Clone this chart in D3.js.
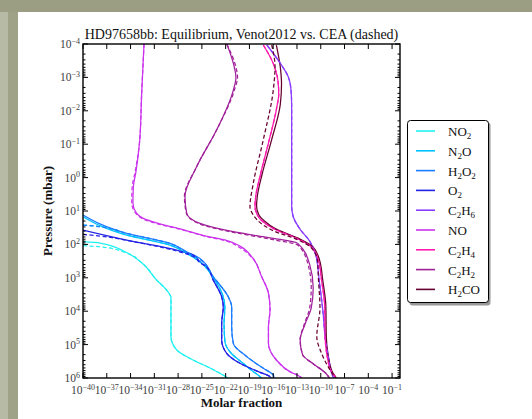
<!DOCTYPE html>
<html>
<head>
<meta charset="utf-8">
<script src="https://cdn.jsdelivr.net/npm/d3@7"></script>
<style>
  html, body { margin: 0; padding: 0; background: #fff; }
  svg { display: block; }
  text { font-family: "Liberation Serif", "DejaVu Serif", serif; }
</style>
</head>
<body>
<svg id="chart" width="532" height="419"></svg>
<script>
// Species in legend order, with their line colours
const species = ["NO2", "N2O", "H2O2", "O2", "C2H6", "NO", "C2H4", "C2H2", "H2CO"];
const colors  = ["#22f0f0", "#00c4ff", "#1a7cff", "#2222e6", "#8a3cff", "#cc33ee", "#ff1ab0", "#a0209a", "#66002e"];

// Profiles: [log10 molar fraction, log10 pressure (mbar)]
// Venot2012 (solid)
const NO2  = [[-40,1.92],[-37.85,1.96],[-34.7,2.22],[-32.6,2.55],[-30.7,3.07],[-29.44,3.37],[-28.9,3.6],[-28.9,4.26],[-28.9,4.76],[-28.18,5.16],[-26.12,5.46],[-23.97,5.7],[-21.7,6.0]];
const N2O  = [[-40,1.17],[-34.49,1.72],[-29.02,2.02],[-26.91,2.27],[-25.24,2.52],[-23.56,3.0],[-22.4,3.5],[-22.1,3.87],[-22.2,4.36],[-22.1,4.9],[-21.3,5.26],[-19.8,5.56],[-18.5,5.81],[-17.67,5.96],[-17.5,6.0]];
const H2O2 = [[-40,1.12],[-34.49,1.67],[-29.02,1.97],[-26.91,2.22],[-25.24,2.42],[-23.56,2.97],[-21.67,3.57],[-21.24,3.87],[-21.24,4.46],[-21.03,4.96],[-19.34,5.36],[-17.25,5.71],[-15.99,5.91],[-15.9,6.0]];
const O2   = [[-40,1.57],[-34.49,1.87],[-28.18,2.17],[-26.08,2.32],[-25.24,2.52],[-24.39,2.67],[-23.56,3.07],[-22.5,3.57],[-22.3,3.87],[-22.5,4.36],[-22.5,4.86],[-21.87,5.26],[-20.19,5.56],[-17.88,5.81],[-16.4,5.96],[-16.28,6.0]];
const C2H6 = [[-16.8,-3.97],[-15.1,-3.42],[-14.1,-3.02],[-13.75,-2.62],[-13.67,-2.12],[-13.67,-1.0],[-13.67,0.0],[-13.67,0.85],[-13.5,1.15],[-12.6,1.55],[-11.4,1.9],[-10.6,2.35],[-10.2,3.07],[-9.7,4.06],[-9.45,4.76],[-9.05,5.36],[-8.45,5.96],[-8.35,6.0]];
const NO   = [[-32.3,-4.0],[-32.6,-2.5],[-32.85,-1.1],[-33.3,-0.2],[-33.65,0.3],[-33.7,0.75],[-33.3,1.05],[-32.4,1.22],[-30.5,1.37],[-27.5,1.55],[-24.5,1.75],[-21.9,1.88],[-20.2,2.05],[-18.6,2.4],[-17.45,2.97],[-16.6,3.46],[-16.4,3.96],[-16.6,4.46],[-16.6,4.96],[-15.6,5.46],[-13.9,5.81],[-12.6,5.96],[-12.4,6.0]];
const C2H4 = [[-17.25,-3.97],[-16.0,-3.42],[-15.4,-2.9],[-15.3,-2.5],[-15.55,-2.1],[-16.5,-1.13],[-17.6,-0.1],[-18.2,0.55],[-18.3,0.85],[-18.0,1.12],[-17.4,1.3],[-16.0,1.52],[-13.0,1.82],[-11.2,2.07],[-10.3,2.47],[-9.9,3.07],[-9.5,3.87],[-9.45,4.76],[-9.25,5.26],[-8.65,5.81],[-8.2,5.96],[-8.1,6.0]];
const C2H2 = [[-21.85,-4.0],[-20.9,-3.3],[-20.7,-3.0],[-21.03,-2.62],[-23.13,-1.43],[-25.65,-0.33],[-27.13,0.57],[-26.91,1.07],[-25.24,1.37],[-21.03,1.62],[-17.29,1.77],[-15.99,1.82],[-12.9,1.97],[-11.4,2.6],[-10.95,3.3],[-11.2,3.9],[-12.0,4.4],[-12.6,4.86],[-12.3,5.3],[-10.8,5.6],[-9.4,5.85],[-8.9,6.0]];
const H2CO = [[-15.6,-3.97],[-15.1,-3.3],[-14.95,-2.8],[-15.1,-2.2],[-16.2,-1.13],[-17.4,-0.1],[-18.0,0.55],[-18.1,0.85],[-17.8,1.12],[-17.1,1.3],[-15.8,1.52],[-12.8,1.82],[-11.0,2.07],[-10.15,2.47],[-9.75,3.07],[-9.35,3.87],[-9.3,4.76],[-9.1,5.26],[-8.55,5.81],[-8.15,5.96],[-8.05,6.0]];

// CEA (dashed)
const NO2_cea  = [[-40,2.04],[-37.85,2.07],[-34.7,2.24],[-32.6,2.55],[-30.7,3.07],[-29.44,3.37],[-28.9,3.6],[-28.9,4.26],[-28.9,4.76],[-28.18,5.16],[-26.12,5.46],[-23.97,5.7],[-21.7,6.0]];
const N2O_cea  = [[-40,1.42],[-37.85,1.47],[-34.49,1.72],[-29.02,2.02],[-26.91,2.27],[-25.24,2.52],[-23.56,3.0],[-22.4,3.5],[-22.1,3.87],[-22.2,4.36],[-22.1,4.9],[-21.3,5.26],[-19.8,5.56],[-18.5,5.81],[-17.67,5.96],[-17.5,6.0]];
const H2O2_cea = [[-40,1.42],[-37.85,1.47],[-34.49,1.67],[-29.02,1.97],[-26.91,2.24],[-25.24,2.45],[-23.56,2.97],[-21.67,3.57],[-21.24,3.87],[-21.24,4.46],[-21.03,4.96],[-19.34,5.36],[-17.25,5.71],[-15.99,5.91],[-15.9,6.0]];
const O2_cea   = [[-40,1.7],[-37.85,1.75],[-34.49,1.88],[-28.18,2.2],[-26.08,2.36],[-25.24,2.55],[-24.39,2.68],[-23.56,3.07],[-22.5,3.57],[-22.3,3.87],[-22.5,4.36],[-22.5,4.86],[-21.87,5.26],[-20.19,5.56],[-17.88,5.81],[-16.4,5.96],[-16.28,6.0]];
const C2H6_cea = [[-16.8,-3.97],[-15.1,-3.42],[-14.1,-3.02],[-13.75,-2.62],[-13.67,-2.12],[-13.67,-1.0],[-13.67,0.0],[-13.67,0.85],[-13.5,1.15],[-12.6,1.55],[-11.4,1.9],[-10.6,2.35],[-10.2,3.07],[-9.7,4.06],[-9.45,4.76],[-9.05,5.36],[-8.45,5.96],[-8.35,6.0]];
const NO_cea   = [[-32.3,-4.0],[-32.6,-2.5],[-32.85,-1.1],[-33.4,-0.2],[-33.8,0.3],[-33.85,0.75],[-33.4,1.05],[-32.4,1.24],[-30.5,1.39],[-27.5,1.56],[-24.5,1.76],[-21.9,1.9],[-20.2,2.1],[-18.6,2.42],[-17.45,2.97],[-16.6,3.46],[-16.4,3.96],[-16.6,4.46],[-16.6,4.96],[-15.6,5.46],[-13.9,5.81],[-12.6,5.96],[-12.4,6.0]];
const C2H4_cea = [[-17.25,-3.97],[-16.0,-3.42],[-15.4,-2.9],[-15.3,-2.5],[-15.55,-2.1],[-16.5,-1.13],[-17.6,-0.1],[-18.2,0.55],[-18.3,0.85],[-18.0,1.12],[-17.4,1.3],[-16.0,1.52],[-13.0,1.82],[-11.2,2.07],[-10.3,2.47],[-9.9,3.07],[-9.5,3.87],[-9.45,4.76],[-9.25,5.26],[-8.65,5.81],[-8.2,5.96],[-8.1,6.0]];
const C2H2_cea = [[-21.85,-4.0],[-20.7,-3.3],[-20.5,-3.0],[-20.9,-2.62],[-23.13,-1.43],[-25.65,-0.33],[-27.2,0.57],[-26.95,1.07],[-25.24,1.39],[-21.03,1.64],[-17.29,1.8],[-15.99,1.86],[-12.9,2.02],[-11.6,2.6],[-11.2,3.3],[-11.4,3.9],[-12.1,4.4],[-12.6,4.86],[-12.3,5.3],[-10.8,5.6],[-9.4,5.85],[-8.9,6.0]];
const H2CO_cea = [[-16.19,-3.97],[-15.77,-3.32],[-15.99,-2.62],[-17.25,-1.13],[-18.51,0.17],[-18.93,0.87],[-18.51,1.12],[-17.25,1.42],[-15.9,1.6],[-13.0,1.85],[-11.2,2.1],[-10.4,2.5],[-10.3,3.0],[-10.1,3.9],[-10.5,4.76],[-9.9,5.26],[-8.6,5.85],[-8.2,6.0]];

const solidSets  = [NO2, N2O, H2O2, O2, C2H6, NO, C2H4, C2H2, H2CO];
const dashedSets = [NO2_cea, N2O_cea, H2O2_cea, O2_cea, C2H6_cea, NO_cea, C2H4_cea, C2H2_cea, H2CO_cea];

// Axis tick exponents
const xTickExps = [-40, -37, -34, -31, -28, -25, -22, -19, -16, -13, -10, -7, -4, -1];
const yTickExps = [-4, -3, -2, -1, 0, 1, 2, 3, 4, 5, 6];

const titleText = "HD97658bb: Equilibrium, Venot2012 vs. CEA (dashed)";
const xLabel = "Molar fraction";
const yLabel = "Pressure (mbar)";

const svg = d3.select("#chart");

// page backdrop: textured bands at the top and left
svg.append("rect").attr("x", 0).attr("y", 0).attr("width", 532).attr("height", 419).attr("fill", "#ffffff");
svg.append("rect").attr("x", 0).attr("y", 0).attr("width", 532).attr("height", 12).attr("fill", "#9c9e84");
svg.append("rect").attr("x", 0).attr("y", 12).attr("width", 8).attr("height", 407).attr("fill", "#b7baa4");
svg.append("rect").attr("x", 8).attr("y", 12).attr("width", 10).attr("height", 407).attr("fill", "#9fa287");

const L = 83, R = 400, T = 44, B = 378;
const x = d3.scaleLog().domain([1e-40, 1]).range([L, R]);
const y = d3.scaleLog().domain([1e-4, 1e6]).range([T, B]);

const clipId = "plotclip";
svg.append("clipPath").attr("id", clipId)
  .append("rect").attr("x", L).attr("y", T).attr("width", R - L).attr("height", B - T);

const line = d3.line()
  .x(d => x(Math.pow(10, d[0])))
  .y(d => y(Math.pow(10, d[1])))
  .curve(d3.curveMonotoneY);

const plot = svg.append("g").attr("clip-path", `url(#${clipId})`);
solidSets.forEach((s, i) => {
  plot.append("path").attr("d", line(s)).attr("fill", "none")
    .attr("stroke", colors[i]).attr("stroke-width", 1.25);
});
dashedSets.forEach((s, i) => {
  plot.append("path").attr("d", line(s)).attr("fill", "none")
    .attr("stroke", colors[i]).attr("stroke-width", 1.25)
    .attr("stroke-dasharray", "4,2.5");
});

// ticks (pointing inward on all four sides)
const xTicks = xTickExps.map(e => Math.pow(10, e));
const yMajor = yTickExps.map(e => Math.pow(10, e));
const yMinor = [];
for (let e = -4; e < 6; e++) for (let k = 2; k <= 9; k++) yMinor.push(k * Math.pow(10, e));

const axisG = svg.append("g").attr("stroke", "#000").attr("stroke-width", 1);
xTicks.forEach(v => {
  const px = x(v);
  axisG.append("line").attr("x1", px).attr("x2", px).attr("y1", B).attr("y2", B - 5);
  axisG.append("line").attr("x1", px).attr("x2", px).attr("y1", T).attr("y2", T + 5);
});
yMajor.forEach(v => {
  const py = y(v);
  axisG.append("line").attr("x1", L).attr("x2", L + 5).attr("y1", py).attr("y2", py);
  axisG.append("line").attr("x1", R).attr("x2", R - 5).attr("y1", py).attr("y2", py);
});
yMinor.forEach(v => {
  const py = y(v);
  axisG.append("line").attr("x1", L).attr("x2", L + 2.5).attr("y1", py).attr("y2", py);
  axisG.append("line").attr("x1", R).attr("x2", R - 2.5).attr("y1", py).attr("y2", py);
});

svg.append("rect").attr("x", L).attr("y", T).attr("width", R - L).attr("height", B - T)
  .attr("fill", "none").attr("stroke", "#000").attr("stroke-width", 1.4);

// tick labels: 10 with a superscript exponent
function powerLabel(g, e) {
  g.append("tspan").text("10");
  g.append("tspan").attr("dy", -4.5).attr("font-size", 8)
    .text(e < 0 ? "\u2212" + Math.abs(e) : String(e));
}
xTickExps.forEach(e => {
  const t = svg.append("text").attr("x", x(Math.pow(10, e))).attr("y", 394)
    .attr("text-anchor", "middle").attr("font-size", 11.5).attr("fill", "#3c3c3c");
  powerLabel(t, e);
});
yTickExps.forEach(e => {
  const t = svg.append("text").attr("x", 80).attr("y", y(Math.pow(10, e)) + 4)
    .attr("text-anchor", "end").attr("font-size", 11.5).attr("fill", "#3c3c3c");
  powerLabel(t, e);
});

// title and axis labels
svg.append("text").attr("x", (L + R) / 2).attr("y", 39).attr("text-anchor", "middle")
  .attr("font-size", 14).attr("fill", "#111").text(titleText);
svg.append("text").attr("x", (L + R) / 2).attr("y", 407).attr("text-anchor", "middle")
  .attr("font-size", 13).attr("font-weight", "bold").attr("fill", "#111").text(xLabel);
svg.append("text").attr("transform", `translate(52,${(T + B) / 2}) rotate(-90)`)
  .attr("text-anchor", "middle").attr("font-size", 13).attr("font-weight", "bold")
  .attr("fill", "#111").text(yLabel);

// legend
const legendNames = [
  ["NO", "2", ""], ["N", "2", "O"], ["H", "2", "O", "2"], ["O", "2"], ["C", "2", "H", "6"],
  ["NO"], ["C", "2", "H", "4"], ["C", "2", "H", "2"], ["H", "2", "CO"]
];
const lg = svg.append("g");
lg.append("rect").attr("x", 409.5).attr("y", 122.5).attr("width", 81).attr("height", 183)
  .attr("rx", 3).attr("fill", "#555").attr("opacity", 0.6);
lg.append("rect").attr("x", 407.5).attr("y", 120.5).attr("width", 81).attr("height", 182)
  .attr("rx", 3).attr("fill", "#fff").attr("stroke", "#000").attr("stroke-width", 1);
species.forEach((s, i) => {
  const ly = 131 + i * 19.8;
  lg.append("line").attr("x1", 416).attr("x2", 435).attr("y1", ly).attr("y2", ly)
    .attr("stroke", colors[i]).attr("stroke-width", 1.6);
  const t = lg.append("text").attr("x", 448).attr("y", ly + 5).attr("font-size", 13).attr("fill", "#111");
  legendNames[i].forEach((part, j) => {
    if (part === "") return;
    if (j % 2 === 1) {
      t.append("tspan").attr("dy", 3).attr("font-size", 9).text(part);
    } else {
      t.append("tspan").attr("dy", j === 0 ? 0 : -3).text(part);
    }
  });
});
</script>
</body>
</html>
